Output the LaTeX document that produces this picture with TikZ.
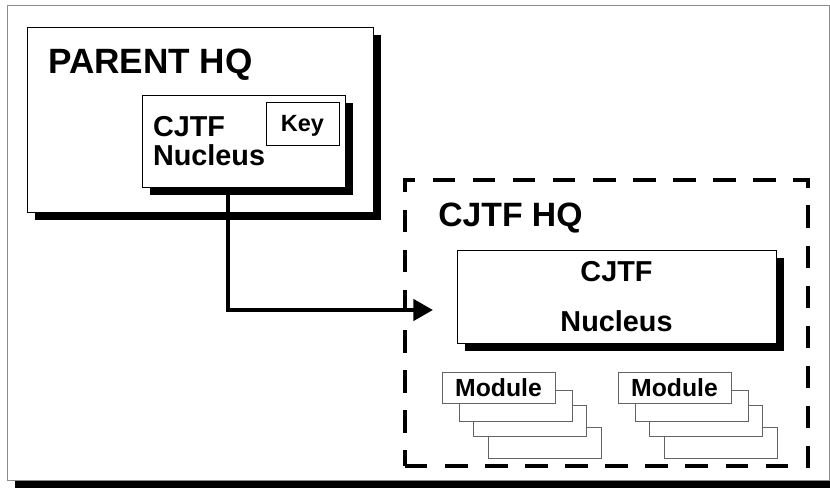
\documentclass[tikz,border=0pt]{standalone}
\usepackage{fontspec}
\setsansfont{Liberation Sans}
\usetikzlibrary{
  arrows.meta,
  positioning,
  shadows
}
\definecolor{framegray}{RGB}{140,140,140}
\definecolor{modgray}{RGB}{100,100,100}

\begin{document}
\begin{tikzpicture}[
  every node/.style={font=\sffamily\bfseries, inner sep=0pt},
  shadowbox/.style={draw, fill=white, line width=0.7pt,
               drop shadow={opacity=1, fill=black, shadow xshift=0.2cm, shadow yshift=-0.21cm}},
  hqbox/.style={draw, line width=2.8pt, dash pattern=on 16pt off 12.5pt},
  modbox/.style={draw=modgray, fill=white, line width=0.6pt,
               minimum width=2.825cm, minimum height=0.775cm, text depth=0pt,
               font=\sffamily\bfseries\fontsize{17.6}{20}\selectfont},
  titletext/.style={anchor=base west, font=\sffamily\bfseries\fontsize{25}{30}\selectfont},
  >={Triangle[length=14pt, width=15pt]}
]
\useasboundingbox (0,0) rectangle (20.75,12.175);

% page frame
\node[draw=framegray, line width=0.7pt, fill=white,
      drop shadow={opacity=1, fill=black, shadow xshift=0.2cm, shadow yshift=-0.2cm},
      minimum width=20.54cm, minimum height=11.875cm] (frame) at (10.456,6.1125) {};

% parent headquarters
\node[shadowbox, minimum width=8.65cm, minimum height=4.625cm] (parent) at (5.0,9.1875) {};
\node[titletext] (parentlbl) at (1.2,10.325) {PARENT HQ};
\node[shadowbox, minimum height=2.3cm, inner xsep=0.275cm, text width=4.525cm, align=left,
      font=\sffamily\bfseries\fontsize{20.5}{21}\selectfont] (pnuc) at (6.0875,8.65) {CJTF\\Nucleus};
\node[draw, line width=0.7pt, fill=white, minimum width=1.825cm, minimum height=1.075cm,
      text depth=0pt, font=\sffamily\bfseries\fontsize{16.7}{20}\selectfont] (key) at (7.5625,9.0875) {Key};

% CJTF headquarters
\node[hqbox, minimum width=10.075cm, minimum height=7.15cm] (hq) at (15.1625,4.1) {};
\node[titletext, font=\sffamily\bfseries\fontsize{24}{28}\selectfont] (hqlbl) at (10.95,6.5) {CJTF HQ};
\node[shadowbox, minimum width=7.975cm, minimum height=2.325cm, align=center,
      font=\sffamily\bfseries\fontsize{20.5}{35}\selectfont] (hqnuc) at (15.4125,4.7625) {CJTF\\Nucleus};

% module stacks
\node[modbox] (moda4) at (13.6125,1.1125) {};
\node[modbox] (moda3) at (13.25,1.6625) {};
\node[modbox] (moda2) at (12.8875,2.0375) {};
\node[modbox] (moda1) at (12.4625,2.4875) {Module};
\node[modbox] (modb4) at (18.0125,1.1125) {};
\node[modbox] (modb3) at (17.65,1.6625) {};
\node[modbox] (modb2) at (17.2875,2.0375) {};
\node[modbox] (modb1) at (16.8625,2.4875) {Module};

% deployment of the nucleus
\coordinate (tip) at (10.825,4.425);
\draw[->, line width=3pt] ([xshift=-0.3875cm]pnuc.south) |- (tip);

\end{tikzpicture}
\end{document}
